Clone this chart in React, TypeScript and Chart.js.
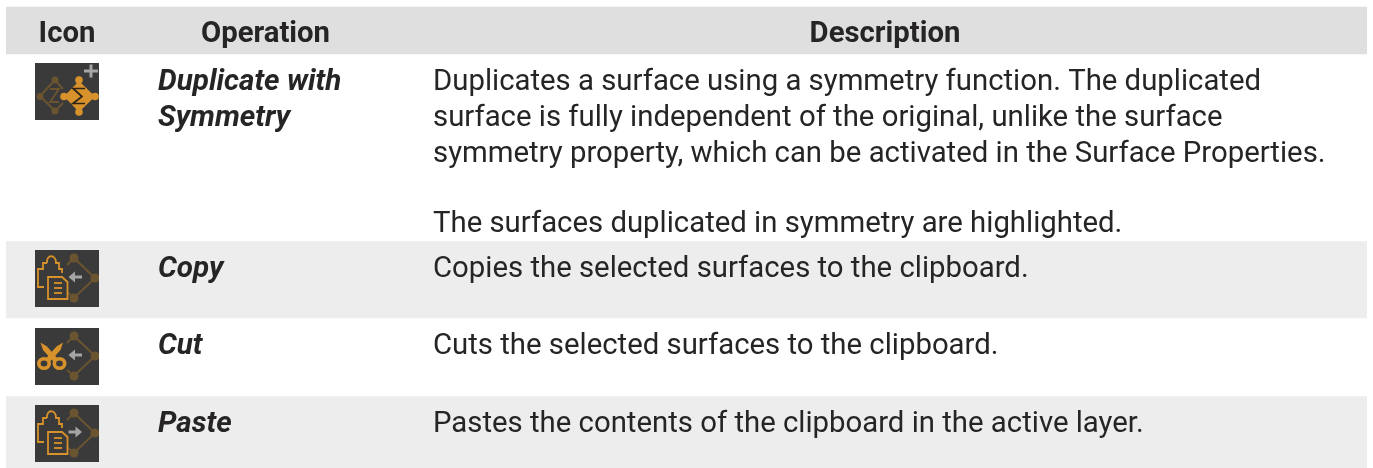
import React, { useEffect, useRef } from "react";
import { Chart, registerables } from "chart.js";

Chart.register(...registerables);

const headers = ["Icon", "Operation", "Description"];
const operations = [["Duplicate with", "Symmetry"], ["Copy"], ["Cut"], ["Paste"]];
const descriptions = [
  [
    "Duplicates a surface using a symmetry function. The duplicated",
    "surface is fully independent of the original, unlike the surface",
    "symmetry property, which can be activated in the Surface Properties.",
    "",
    "The surfaces duplicated in symmetry are highlighted.",
  ],
  ["Copies the selected surfaces to the clipboard."],
  ["Cuts the selected surfaces to the clipboard."],
  ["Pastes the contents of the clipboard in the active layer."],
];
const rowNames = ["Header", "Duplicate with Symmetry", "Copy", "Cut", "Paste"];
const rowSpans: [number, number][] = [[7, 54], [54, 241], [241, 318], [318, 396], [396, 468]];
const rowFills = ["#dfdfdf", "#ffffff", "#ededed", "#ffffff", "#ededed"];
const iconTops = [63, 250, 328, 405];
const firstBaselines = [90, 277, 354, 432];
const lineOffsets = [0, 36, 72, 0, 142];

const INK = "#262425";
const ORANGE = "#d8922c";
const DIM = "#6b5430";
const GREY = "#a5a5a5";
const BOX = "#3a3a3a";

type Ctx = CanvasRenderingContext2D;

function poly(c: Ctx, pts: number[][], close = false) {
  c.beginPath();
  pts.forEach(([x, y], i) => (i ? c.lineTo(x, y) : c.moveTo(x, y)));
  if (close) c.closePath();
}
function dot(c: Ctx, x: number, y: number, r: number, col: string) {
  c.fillStyle = col;
  c.beginPath();
  c.arc(x, y, r, 0, Math.PI * 2);
  c.fill();
}
function rightNodes(c: Ctx) {
  c.strokeStyle = DIM;
  c.lineWidth = 2;
  poly(c, [[32, 15], [39, 8], [60, 28], [39, 48], [32, 42]]);
  c.stroke();
  dot(c, 39, 8, 4.5, DIM);
  dot(c, 60, 28, 4.5, DIM);
  dot(c, 39, 48, 4.5, DIM);
}
function arrow(c: Ctx, dir: number) {
  const [a, b] = dir < 0 ? [33.5, 47] : [47, 33.5];
  const s = dir < 0 ? 1 : -1;
  c.strokeStyle = GREY;
  c.lineWidth = 3;
  poly(c, [[a + 2 * s, 27], [b, 27]]);
  c.stroke();
  c.fillStyle = GREY;
  poly(c, [[a + 6.5 * s, 21.5], [a, 27], [a + 6.5 * s, 32.5]], true);
  c.fill();
}
function clipboard(c: Ctx) {
  c.strokeStyle = ORANGE;
  c.lineWidth = 1.8;
  poly(c, [[9, 37], [3, 37], [3, 19], [8, 19], [8, 13], [12, 13]]);
  c.stroke();
  c.beginPath();
  c.moveTo(12, 13);
  c.bezierCurveTo(11, 4, 21, 4, 21, 13);
  c.lineTo(24, 13);
  c.lineTo(24, 19);
  c.lineTo(27, 19);
  c.lineTo(27, 23);
  c.stroke();
  poly(c, [[13, 27], [27, 27], [32.5, 32], [32.5, 49], [13, 49]], true);
  c.stroke();
  [33, 38, 43].forEach((y) => {
    poly(c, [[19, y], [27, y]]);
    c.stroke();
  });
}
function symmetryIcon(c: Ctx) {
  c.strokeStyle = DIM;
  c.lineWidth = 2;
  poly(c, [[20, 17], [5, 33], [20, 48]]);
  c.stroke();
  poly(c, [[20, 17], [28, 26]]);
  c.stroke();
  poly(c, [[20, 48], [28, 40]]);
  c.stroke();
  dot(c, 20, 17, 3.5, DIM);
  dot(c, 5, 33.5, 3.5, DIM);
  dot(c, 20, 48, 3.5, DIM);
  poly(c, [[15, 26], [24, 26], [15, 39], [24, 39]]);
  c.stroke();
  c.fillStyle = ORANGE;
  poly(c, [[44, 18], [60, 33.5], [44, 49], [29, 33.5]], true);
  c.fill();
  dot(c, 44, 17, 3.8, ORANGE);
  dot(c, 29, 33.5, 3.8, ORANGE);
  dot(c, 60, 33.5, 3.8, ORANGE);
  dot(c, 44, 49, 3.8, ORANGE);
  c.strokeStyle = "#2f2618";
  c.lineWidth = 1.7;
  poly(c, [[50, 25.5], [38, 25.5], [47, 33.5], [38, 40.5], [50, 40.5]]);
  c.stroke();
  c.strokeStyle = GREY;
  c.lineWidth = 3;
  poly(c, [[49, 8], [63, 8]]);
  c.stroke();
  poly(c, [[56, 1.5], [56, 14.5]]);
  c.stroke();
}
function copyIcon(c: Ctx) {
  rightNodes(c);
  arrow(c, -1);
  clipboard(c);
}
function pasteIcon(c: Ctx) {
  rightNodes(c);
  arrow(c, 1);
  clipboard(c);
}
function cutIcon(c: Ctx) {
  rightNodes(c);
  arrow(c, -1);
  c.strokeStyle = ORANGE;
  c.lineWidth = 3.6;
  c.beginPath();
  c.ellipse(9, 35.5, 5.2, 4.8, 0, 0, Math.PI * 2);
  c.stroke();
  c.beginPath();
  c.ellipse(24.5, 35.5, 5.2, 4.8, 0, 0, Math.PI * 2);
  c.stroke();
  c.fillStyle = ORANGE;
  poly(c, [[5.5, 14.5], [12, 18.5], [24, 32], [18, 33], [8, 22]], true);
  c.fill();
  poly(c, [[28, 14.5], [21.5, 18.5], [9.5, 32], [15.5, 33], [25.5, 22]], true);
  c.fill();
}
const iconPainters = [symmetryIcon, copyIcon, cutIcon, pasteIcon];

const tablePlugin = {
  id: "tableText",
  afterDatasetsDraw(chart: any) {
    const c: Ctx = chart.ctx;
    c.save();
    c.textBaseline = "alphabetic";
    c.fillStyle = INK;
    c.font = "bold 29.3px Roboto";
    c.textAlign = "center";
    c.fillText(headers[0], 67, 42);
    c.fillText(headers[1], 265.5, 42);
    c.fillText(headers[2], 885, 42);
    c.textAlign = "left";
    operations.forEach((lines, r) => {
      c.font = "italic bold 29.6px Roboto";
      lines.forEach((t, i) => c.fillText(t, 158, firstBaselines[r] + i * 36));
      c.font = "29.33px Roboto";
      descriptions[r].forEach((t, i) => {
        if (t) c.fillText(t, 433, firstBaselines[r] + lineOffsets[i]);
      });
    });
    iconTops.forEach((top, r) => {
      c.save();
      c.fillStyle = BOX;
      c.fillRect(35, top, 64, 57);
      c.beginPath();
      c.rect(35, top, 64, 57);
      c.clip();
      c.translate(35, top);
      c.filter = "blur(0.6px)";
      iconPainters[r](c);
      c.restore();
    });
    c.restore();
  },
};

export default function App() {
  const ref = useRef<HTMLCanvasElement>(null);
  useEffect(() => {
    const chart = new Chart(ref.current!, {
      type: "bar",
      data: {
        labels: ["Table"],
        datasets: rowNames.map((name, i) => ({
          label: name,
          data: [rowSpans[i]],
          backgroundColor: rowFills[i],
          borderWidth: 0,
          grouped: false,
          barPercentage: 1,
          categoryPercentage: 1,
        })) as any,
      },
      options: {
        animation: false,
        responsive: false,
        layout: { padding: { left: 6, right: 6, top: 0, bottom: 0 } },
        plugins: { legend: { display: false }, tooltip: { enabled: false } },
        scales: {
          x: { display: false },
          y: { display: false, min: 0, max: 468, reverse: true },
        },
      },
      plugins: [tablePlugin],
    });
    return () => chart.destroy();
  }, []);
  return (
    <div style={{ position: "fixed", left: 0, top: 0, width: 1373, height: 468, background: "#fff" }}>
      <canvas ref={ref} width={1373} height={468} style={{ display: "block" }} />
    </div>
  );
}
